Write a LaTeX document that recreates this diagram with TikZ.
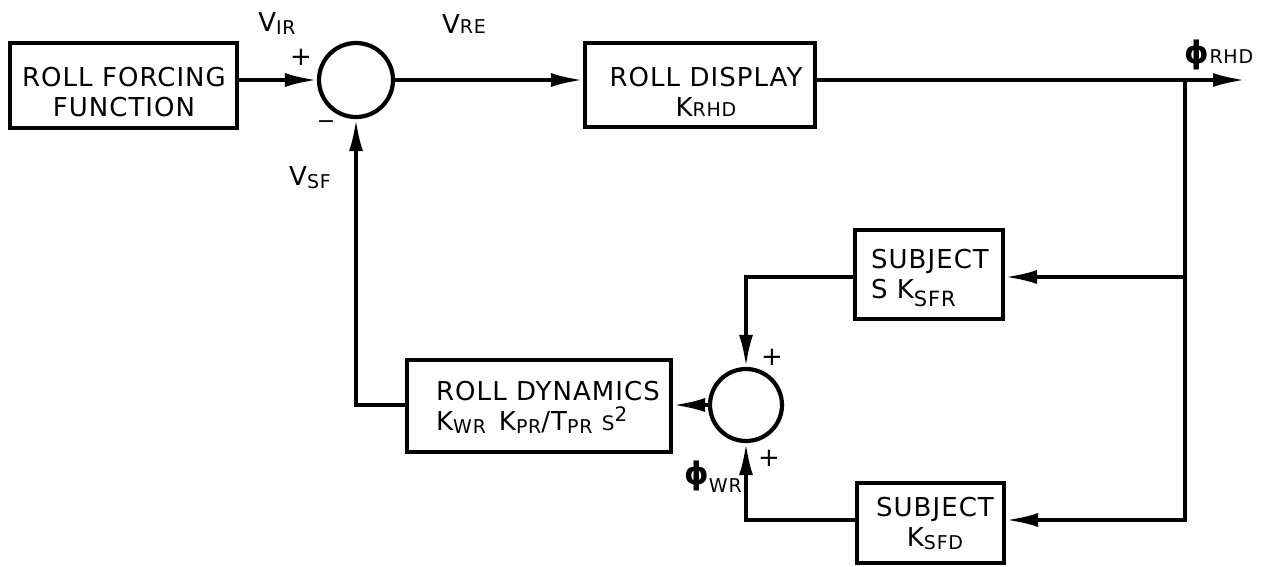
\documentclass[tikz,border=0pt]{standalone}
\usepackage{fontspec}
\setmainfont{DejaVu Sans}[LetterSpace=4]
\usetikzlibrary{arrows.meta}
\newcommand\lf{\fontsize{26}{30}\selectfont}
\newcommand\sbs[1]{\raisebox{-3pt}{\fontsize{19}{19}\selectfont #1}}
\newcommand\sbl[1]{{\fontsize{19}{19}\selectfont #1}}
\newcommand\sbd[1]{\raisebox{-8pt}{\fontsize{21}{21}\selectfont #1}}
\newcommand\bigphi{{\fontsize{31}{31}\selectfont\bfseries ϕ}}
\begin{document}
\begin{tikzpicture}[x=1pt,y=-1pt, line width=3.6pt,
  box/.style={draw, line width=4.2pt, inner sep=0pt, rectangle},
  sumc/.style={draw, circle, line width=4.2pt, inner sep=0pt},
  arr/.style={-{Latex[length=32pt,width=14pt]}},
  lbl/.style={inner sep=0pt, font=\lf},
  ]
\useasboundingbox (0,0) rectangle (1270,566);
% blocks
\node[box, minimum width=227pt, minimum height=85pt] (ff) at (123.5,85.5) {};
\node[box, minimum width=230pt, minimum height=84pt] (rd) at (700,85) {};
\node[box, minimum width=148pt, minimum height=89pt] (sfr) at (929,274.5) {};
\node[box, minimum width=147pt, minimum height=80pt] (sfd) at (930.5,523) {};
\node[box, minimum width=264pt, minimum height=92pt] (dyn) at (539,406) {};
\node[sumc, minimum size=74pt] (s1) at (356,80) {};
\node[sumc, minimum size=72pt] (s2) at (746,405) {};
% block texts
\node[lbl, align=center] (tff) at (124,92) {ROLL FORCING\\FUNCTION};
\node[lbl, align=center] (trd) at (706,92) {ROLL DISPLAY\\K\sbl{RHD}};
\node[lbl, align=left] (tsfr) at (930,278) {SUBJECT\\S K\sbd{SFR}};
\node[lbl, align=center] (tsfd) at (935,523) {SUBJECT\\K\sbs{SFD}};
\node[lbl, align=left] (tdyn) at (548,407) {ROLL DYNAMICS\\K\sbs{WR}\enspace K\sbs{PR}/T\sbs{PR} {\fontsize{20}{20}\selectfont S}\raisebox{9pt}{\fontsize{20}{20}\selectfont 2}};
% signal labels
\node[lbl] (vir) at (277,24) {V\sbs{IR}};
\node[lbl] (pl1) at (301,57) {+};
\node[lbl, font=\fontsize{22}{22}\selectfont] (mi1) at (326,125) {−};
\node[lbl] (vre) at (464,24) {V\sbl{RE}};
\node[lbl] (vsf) at (310,178) {V\sbs{SF}};
\node[lbl] (phr) at (1219,55) {\bigphi\sbl{RHD}};
\node[lbl] (pl2) at (772,357) {+};
\node[lbl] (pl3) at (769,458) {+};
\node[lbl] (phw) at (713,477) {\bigphi\raisebox{-8pt}{\fontsize{19}{19}\selectfont WR}};
% connectors
\coordinate (br) at (1185,80);
\coordinate (out) at (1245,80);
\coordinate (c4) at (1185,277);
\coordinate (c5) at (1185,520);
\draw[arr] (ff.east |- s1.west) -- (s1.west);
\draw[arr] (s1.east) -- (rd.west |- s1.east);
\draw[arr] (rd.east |- out) -- (out);
\draw[arr] (br) -- (c5) -- (sfd.east |- c5);
\draw[arr] (c4) -- (sfr.east |- c4);
\draw[arr] (sfr.west |- c4) -- (s2.north |- c4) -- (s2.north);
\draw[arr] (sfd.west |- c5) -- (s2.south |- c5) -- (s2.south);
\draw[arr] (s2.west) -- (dyn.east |- s2.west);
\draw[arr] (dyn.west |- s2.west) -- (s1.south |- s2.west) -- (s1.south);
\end{tikzpicture}
\end{document}
